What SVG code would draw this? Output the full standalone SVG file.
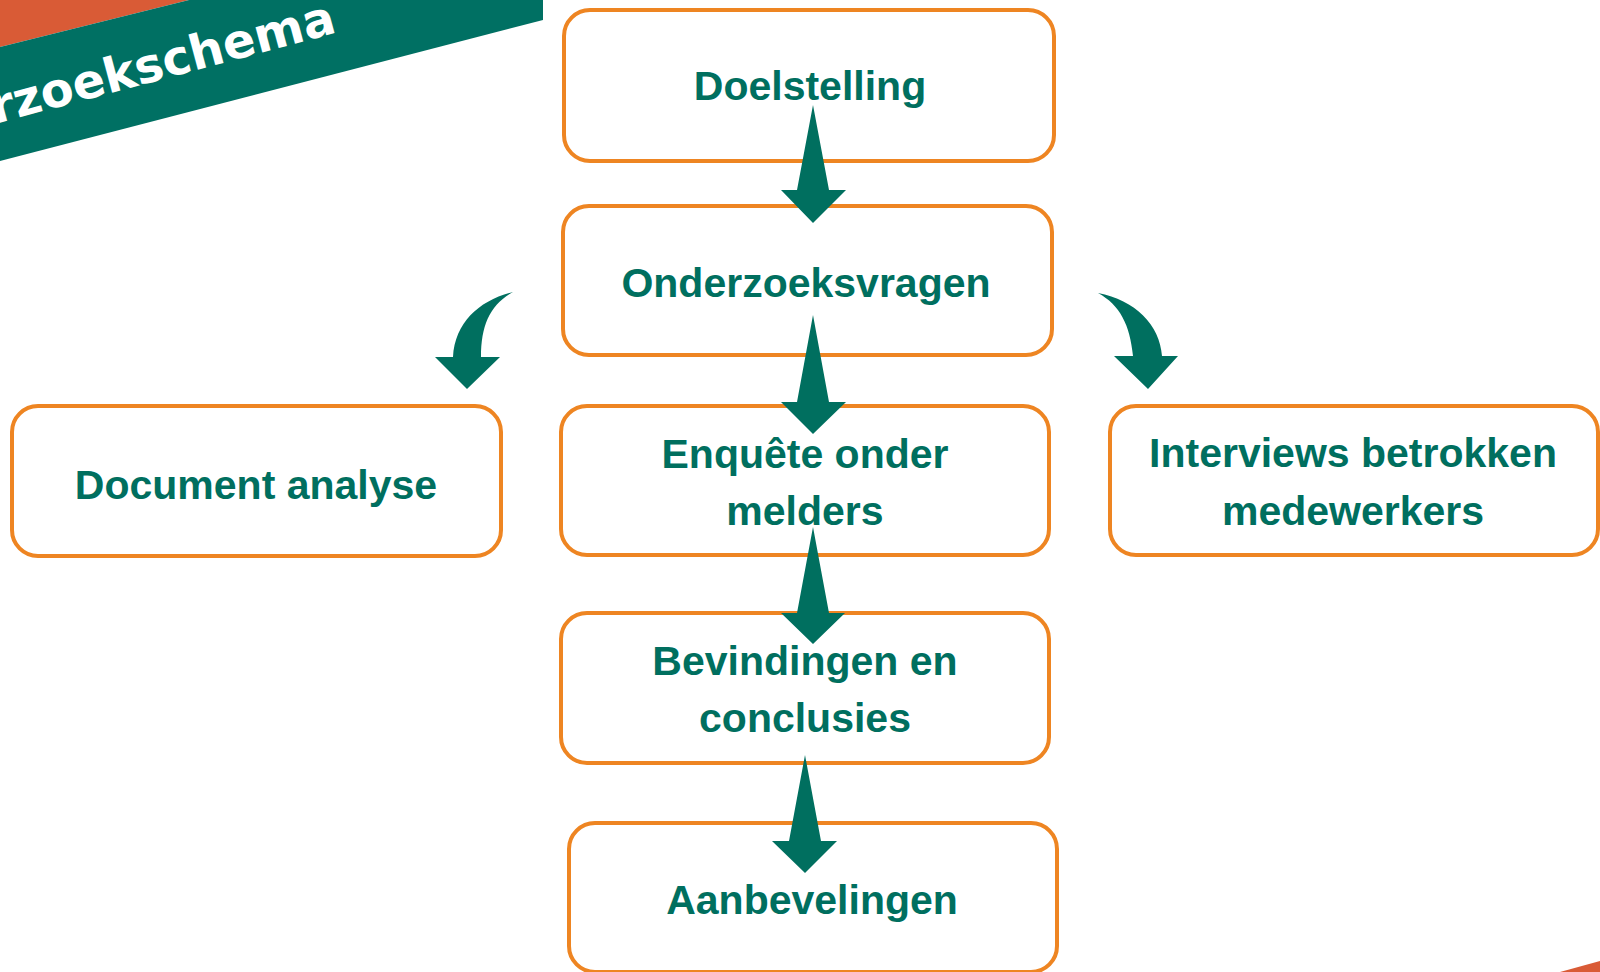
<svg xmlns="http://www.w3.org/2000/svg" width="1600" height="972" viewBox="0 0 1600 972">
<style>
.box{fill:#ffffff;stroke:#EE8522;stroke-width:4}
.lbl{font-family:"Liberation Sans",Arial,sans-serif;font-weight:bold;font-size:41px;fill:#006F5F;text-anchor:middle}
.arr{fill:#006F5F}
.ban{font-family:"DejaVu Sans",Verdana,sans-serif;font-weight:bold;font-size:48px;fill:#ffffff}
</style>
<rect width="1600" height="972" fill="#ffffff"/>
<g id="banner">
<polygon points="0,0 189,0 0,47" fill="#D95B36"/>
<polygon points="189,0 543,0 543,20 0,161 0,47" fill="#007063"/>
<text class="ban" transform="translate(-5,124) rotate(-15)">rzoekschema</text>
<polygon points="1560,972 1600,961 1600,972" fill="#D95B36"/>
</g>
<g id="n-doelstelling">
<rect class="box" x="564" y="10" width="490" height="151" rx="26"/>
<text class="lbl" x="810" y="100">Doelstelling</text>
</g>
<g id="n-onderzoeksvragen">
<rect class="box" x="563" y="206" width="489" height="149" rx="26"/>
<text class="lbl" x="806" y="297">Onderzoeksvragen</text>
</g>
<g id="n-document">
<rect class="box" x="12" y="406" width="489" height="150" rx="26"/>
<text class="lbl" x="256" y="499">Document analyse</text>
</g>
<g id="n-enquete">
<rect class="box" x="561" y="406" width="488" height="149" rx="26"/>
<text class="lbl" x="805" y="468">Enquête onder</text>
<text class="lbl" x="805" y="525">melders</text>
</g>
<g id="n-interviews">
<rect class="box" x="1110" y="406" width="488" height="149" rx="26"/>
<text class="lbl" x="1353" y="467">Interviews betrokken</text>
<text class="lbl" x="1353" y="525">medewerkers</text>
</g>
<g id="n-bevindingen">
<rect class="box" x="561" y="613" width="488" height="150" rx="26"/>
<text class="lbl" x="805" y="675">Bevindingen en</text>
<text class="lbl" x="805" y="732">conclusies</text>
</g>
<g id="n-aanbevelingen">
<rect class="box" x="569" y="823" width="488" height="149" rx="26"/>
<text class="lbl" x="812" y="914">Aanbevelingen</text>
</g>
<g id="connectors">
<polygon class="arr" points="813,105 829,190 846,190 813,223 781,190 797,190"/>
<polygon class="arr" points="813,315 829,402 846,402 813,434 781,402 797,402"/>
<polygon class="arr" points="813,527 829,613 845,613 813,644 781,613 797,613"/>
<polygon class="arr" points="805,755 821,841 837,841 805,873 772,841 789,841"/>
<path class="arr" d="M513,292 C480,300 455,322 453,357 L435,357 L467,389 L500,357 L481,357 C481,325 490,305 513,292 Z"/>
<path class="arr" d="M1098,293 C1135,300 1160,325 1162,356 L1178,356 L1148,389 L1114,356 L1133,356 C1130,325 1120,305 1098,293 Z"/>
</g>
</svg>
